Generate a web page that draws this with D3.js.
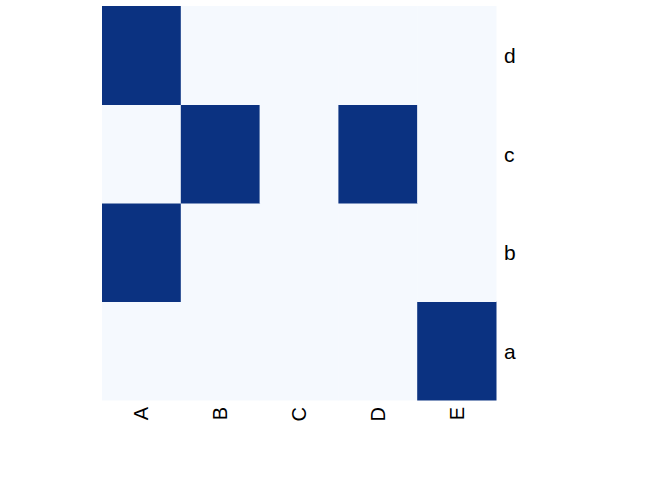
<!DOCTYPE html>
<html><head><meta charset="utf-8">
<script src="https://cdn.jsdelivr.net/npm/d3@7"></script>
<style>body{margin:0;background:#fff}</style>
</head><body>
<svg id="c" width="672" height="480"></svg>
<script>
const columns = ["A","B","C","D","E"];
const rows = ["a","b","c","d"];
// values[row][col]
const valuesA = [0,0,0,0,1];
const valuesB = [1,0,0,0,0];
const valuesC = [0,1,0,1,0];
const valuesD = [1,0,0,0,0];
const matrix = {a: valuesA, b: valuesB, c: valuesC, d: valuesD};

const svg = d3.select("#c");
const mLeft = 102, mRight = 496, mTop = 6, mBottom = 400;
const x = d3.scaleBand().domain(columns).range([mLeft, mRight]);
const y = d3.scaleBand().domain(rows).range([mBottom, mTop]);
const color = d3.scaleLinear().domain([0,1]).range(["#F5F9FE","#0B3281"]);

const cells = [];
rows.forEach(r => columns.forEach((c, i) => cells.push({r, c, v: matrix[r][i]})));

svg.selectAll("rect.cell").data(cells).enter().append("rect")
  .attr("x", d => x(d.c)).attr("y", d => y(d.r))
  .attr("width", x.bandwidth() + 0.5).attr("height", y.bandwidth() + 0.5)
  .attr("fill", d => color(d.v));

const font = "Liberation Sans, Arial, sans-serif";
const xa = svg.append("g").attr("transform", `translate(0,${mBottom})`)
  .call(d3.axisBottom(x).tickSize(0).tickPadding(0));
xa.select(".domain").remove();
xa.selectAll("text")
  .attr("font-family", font).attr("font-size", 20).attr("fill", "#000")
  .attr("dy", null).attr("y", null)
  .attr("text-anchor", "end")
  .attr("dominant-baseline", "central")
  .attr("transform", "translate(0,7) rotate(-90)");

const ya = svg.append("g").attr("transform", `translate(${mRight},0)`)
  .call(d3.axisRight(y).tickSize(0).tickPadding(8));
ya.select(".domain").remove();
ya.selectAll("text")
  .attr("font-family", font).attr("font-size", 21).attr("fill", "#000")
  .attr("dy", "0.38em");
</script>
</body></html>
